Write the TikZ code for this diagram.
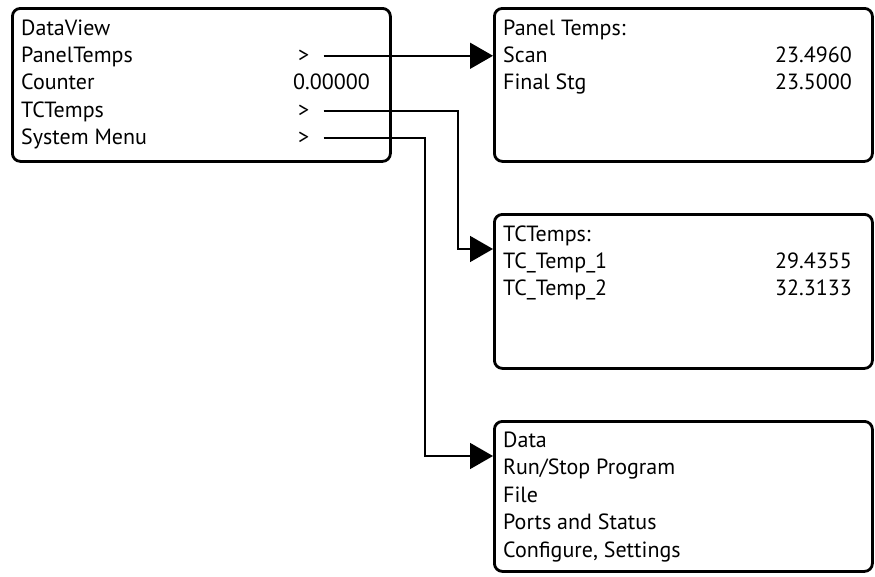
\documentclass[tikz,border=0pt]{standalone}
\usepackage{fontspec}
\setmainfont{PT Sans}
\usetikzlibrary{arrows.meta}

\begin{document}
\begin{tikzpicture}[x=1pt,y=-1pt,
	screen/.style={draw, line width=2.8pt, rounded corners=8pt, minimum width=378pt, minimum height=153pt, anchor=north west},
	item/.style={anchor=base west, inner sep=0pt, font=\fontsize{22}{26}\selectfont},
	value/.style={item, anchor=base east},
	link/.style={line width=1.6pt, -{Triangle[length=23pt,width=26pt]}}]
	\useasboundingbox (0,0) rectangle (875,576);
	% main screen
	\node[screen] (dataview) at (11,7) {};
	\node[item] (dv-title) at (21,35) {DataView};
	\node[item] (dv-panel) at (21,62) {PanelTemps};
	\node[item] (dv-count) at (21,89.5) {Counter};
	\node[item] (dv-tc) at (21,117) {TCTemps};
	\node[item] (dv-sys) at (21,144.5) {System Menu};
	\node[item] (panel-go) at (298,62) {>};
	\node[value] (count-val) at (370,89.5) {0.00000};
	\node[item] (tc-go) at (298,117) {>};
	\node[item] (sys-go) at (298,144.5) {>};
	% panel temps screen
	\node[screen] (panel) at (493,7) {};
	\node[item] (pn-title) at (503,35) {Panel Temps:};
	\node[item] (pn-scan) at (503,62) {Scan};
	\node[item] (pn-final) at (503,89.5) {Final Stg};
	\node[value] (pn-scan-val) at (852,62) {23.4960};
	\node[value] (pn-final-val) at (852,89.5) {23.5000};
	% tc temps screen
	\node[screen, minimum height=154pt] (tcbox) at (493,213) {};
	\node[item] (tc-title) at (503,241.5) {TCTemps:};
	\node[item] (tc-one) at (503,268.5) {TC\_Temp\_1};
	\node[item] (tc-two) at (503,295.5) {TC\_Temp\_2};
	\node[value] (tc-one-val) at (852,268.5) {29.4355};
	\node[value] (tc-two-val) at (852,295.5) {32.3133};
	% system menu screen
	\node[screen, minimum height=150pt] (sysbox) at (493,420) {};
	\node[item] (sy-data) at (503,447) {Data};
	\node[item] (sy-run) at (503,474.5) {Run/Stop Program};
	\node[item] (sy-file) at (503,502) {File};
	\node[item] (sy-ports) at (503,529.5) {Ports and Status};
	\node[item] (sy-conf) at (503,557) {Configure, Settings};
	% connectors
	\coordinate (tc-bend) at (458,249);
	\coordinate (sys-bend) at (425,456);
	\draw[link] ([xshift=14pt]panel-go.east) -- (panel.west |- panel-go.east);
	\draw[link] ([xshift=14pt]tc-go.east) -| (tc-bend) -- (tcbox.west |- tc-bend);
	\draw[link] ([xshift=14pt]sys-go.east) -| (sys-bend) -- (sysbox.west |- sys-bend);
\end{tikzpicture}
\end{document}
